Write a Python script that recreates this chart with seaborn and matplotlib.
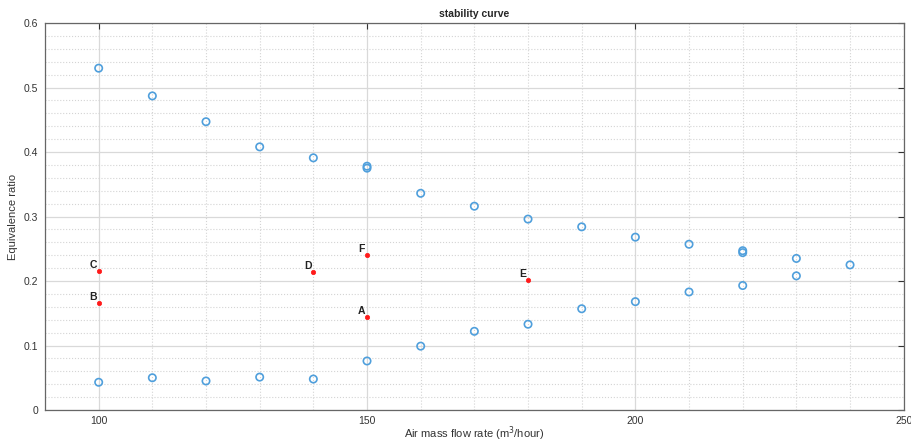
import matplotlib.pyplot as plt
import pandas as pd
import seaborn as sns
from matplotlib.ticker import MultipleLocator

sns.set_theme(style="white")
plt.rcParams["font.family"] = ["Liberation Sans", "DejaVu Sans"]

# stability limits (blue circles)
flow_upper = [100, 110, 120, 130, 140, 150, 150, 160, 170, 180, 190, 200, 210, 220, 220, 230, 240]
phi_upper = [0.530, 0.487, 0.447, 0.408, 0.391, 0.375, 0.378, 0.336, 0.316, 0.296, 0.284, 0.268, 0.257, 0.244, 0.247, 0.235, 0.225]
flow_lower = [100, 110, 120, 130, 140, 150, 160, 170, 180, 190, 200, 210, 220, 230]
phi_lower = [0.043, 0.050, 0.045, 0.051, 0.048, 0.076, 0.099, 0.122, 0.133, 0.157, 0.168, 0.183, 0.193, 0.208]

# operating points (red)
op_labels = ["A", "B", "C", "D", "E", "F"]
op_flow = [150, 100, 100, 140, 180, 150]
op_phi = [0.144, 0.166, 0.215, 0.214, 0.201, 0.240]

limits = pd.DataFrame({"flow": flow_upper + flow_lower, "phi": phi_upper + phi_lower})
ops = pd.DataFrame({"label": op_labels, "flow": op_flow, "phi": op_phi})

fig = plt.figure(figsize=(9.11, 4.43), dpi=100)
ax = fig.add_axes([0.0494, 0.0745, 0.9426, 0.8735])

sns.scatterplot(data=limits, x="flow", y="phi", ax=ax, marker="o", s=28,
                facecolor="none", edgecolor="#4f9fdc", linewidth=1.2, zorder=3)
sns.scatterplot(data=ops, x="flow", y="phi", ax=ax, marker="o", s=10,
                color="#ff1a1a", edgecolor="#ff1a1a", linewidth=0.5, zorder=4)
for _, r in ops.iterrows():
    ax.annotate(r["label"], (r["flow"], r["phi"]), xytext=(-4, 1),
                textcoords="offset points", ha="center", va="bottom",
                fontsize=7.5, fontweight="semibold", color="#222222")

ax.set_xlim(90, 250)
ax.set_ylim(0, 0.6)
ax.set_xticks([100, 150, 200, 250])
ax.set_yticks([0, 0.1, 0.2, 0.3, 0.4, 0.5, 0.6])
ax.set_yticklabels(["0", "0.1", "0.2", "0.3", "0.4", "0.5", "0.6"])
ax.xaxis.set_minor_locator(MultipleLocator(10))
ax.yaxis.set_minor_locator(MultipleLocator(0.02))
ax.grid(which="major", color="#d9d9d9", linewidth=0.9)
ax.grid(which="minor", color="#d4d4d4", linestyle=":", linewidth=0.8)
ax.set_axisbelow(True)
ax.tick_params(which="major", direction="in", length=4, width=0.8, color="#333333",
               top=True, right=True, labelsize=7.5, labelcolor="#333333", pad=5)
ax.tick_params(axis="x", which="major", pad=4)
ax.tick_params(which="minor", length=0)
for s in ax.spines.values():
    s.set_color("#666666")
    s.set_linewidth(0.9)

ax.set_title("stability curve", fontsize=7.5, fontweight="bold", pad=4)
ax.set_xlabel("Air mass flow rate (m$^3$/hour)", fontsize=8, color="#333333", labelpad=-1)
ax.set_ylabel("Equivalence ratio", fontsize=8, color="#333333", labelpad=4)

plt.savefig("out.png", dpi=100)
